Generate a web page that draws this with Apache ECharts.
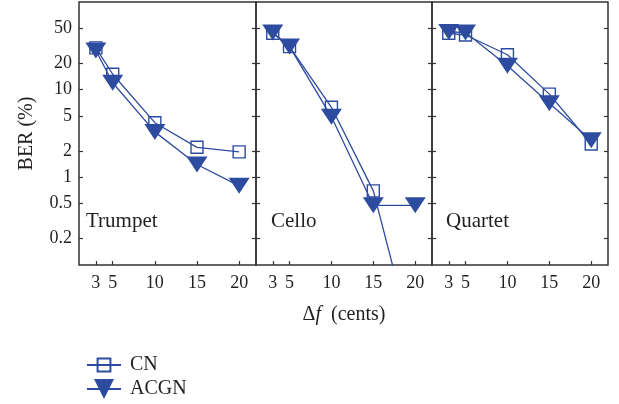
<!DOCTYPE html>
<html>
<head>
<meta charset="utf-8">
<script src="https://cdn.jsdelivr.net/npm/echarts@6/dist/echarts.min.js"></script>
<style>html,body{margin:0;padding:0;background:#fff;}#c{width:619px;height:404px;}</style>
</head>
<body>
<div id="c"></div>
<script>
// ---- data ----
const deltaF = [3, 5, 10, 15, 20];
const panels = ['Trumpet', 'Cello', 'Quartet'];
const trumpetCN   = [30, 15, 4.2, 2.2, 1.95];
const trumpetACGN = [28, 12, 3.3, 1.4, 0.8];
const celloCN     = [44, 31, 6.3, 0.7, 0.01];
const celloACGN   = [45, 31, 4.9, 0.48, 0.48];
const quartetCN   = [44, 42, 25, 8.9, 2.4];
const quartetACGN = [45.5, 45, 18.7, 7.0, 2.65];
const yTicks = [0.2, 0.5, 1, 2, 5, 10, 20, 50];
const xTicks = [3, 5, 10, 15, 20];

const cnSets = [trumpetCN, celloCN, quartetCN];
const acgnSets = [trumpetACGN, celloACGN, quartetACGN];

const BLUE = '#2d4c9f';
const TXT = '#231f20';
const FONT = '"Liberation Serif", "DejaVu Serif", serif';
const TRI = 'path://M0 0 L20 0 L10 16 Z';

const gridDefs = [
  {left: 79, width: 177},
  {left: 256, width: 176},
  {left: 432, width: 176}
];
const grids = gridDefs.map(g => ({
  left: g.left, width: g.width, top: 2, height: 263,
  show: true, borderColor: '#333', borderWidth: 1.5, backgroundColor: 'transparent'
}));

const xAxes = [], yAxes = [], series = [];
gridDefs.forEach((g, i) => {
  xAxes.push({
    type: 'value', gridIndex: i, min: 1, max: 22,
    axisLine: {show: false},
    splitLine: {show: false},
    axisTick: {show: true, inside: true, length: 4, customValues: xTicks, lineStyle: {color: '#333', width: 1.2}},
    axisLabel: {customValues: xTicks, margin: 9, fontFamily: FONT, fontSize: 18, color: TXT},
    name: i === 1 ? '{d|Δ}{f|f}{d|  (cents)}' : '',
    nameLocation: 'middle', nameGap: 40,
    nameTextStyle: {rich: {d: {fontFamily: FONT, fontSize: 20, color: TXT}, f: {fontFamily: FONT, fontSize: 20, fontStyle: 'italic', color: TXT}}}
  });
  yAxes.push({
    type: 'log', logBase: 10, gridIndex: i, min: 0.1, max: 100, position: 'left',
    axisLine: {show: false},
    splitLine: {show: false},
    minorTick: {show: false},
    axisTick: {show: true, inside: true, length: 4, customValues: yTicks, lineStyle: {color: '#333', width: 1.2}},
    axisLabel: {show: i === 0, customValues: yTicks, margin: 7, fontFamily: FONT, fontSize: 18, color: TXT,
      formatter: v => String(v)},
    name: i === 0 ? 'BER (%)' : '',
    nameLocation: 'middle', nameGap: 42,
    nameTextStyle: {fontFamily: FONT, fontSize: 20, color: TXT}
  });
  yAxes.push({
    type: 'log', logBase: 10, gridIndex: i, min: 0.1, max: 100, position: 'right',
    axisLine: {show: false},
    splitLine: {show: false},
    minorTick: {show: false},
    axisTick: {show: true, inside: true, length: 4, customValues: yTicks, lineStyle: {color: '#333', width: 1.2}},
    axisLabel: {show: false, customValues: yTicks}
  });
  const cn = cnSets[i], ac = acgnSets[i];
  series.push({
    name: 'CN', type: 'line', xAxisIndex: i, yAxisIndex: 2 * i,
    data: deltaF.map((x, k) => [x, cn[k]]),
    symbol: 'rect', symbolSize: 12, showAllSymbol: true,
    lineStyle: {color: BLUE, width: 1.3},
    itemStyle: {color: 'rgba(255,255,255,0)', borderColor: BLUE, borderWidth: 1.4},
    clip: true, animation: false, z: 2
  });
  series.push({
    name: 'ACGN', type: 'line', xAxisIndex: i, yAxisIndex: 2 * i,
    data: deltaF.map((x, k) => [x, ac[k]]),
    symbol: TRI, symbolSize: [21, 16], showAllSymbol: true,
    lineStyle: {color: BLUE, width: 1.3},
    itemStyle: {color: BLUE, borderColor: BLUE, borderWidth: 0},
    clip: true, animation: false, z: 3
  });
});

const panelLabelX = [86, 271, 446];
const graphics = panels.map((p, i) => ({
  type: 'text', left: panelLabelX[i], top: 211,
  style: {text: p, font: '21px ' + FONT, fill: TXT}
}));

const legendBase = {
  orient: 'vertical', left: 86, padding: 0,
  itemWidth: 34,
  textStyle: {fontFamily: FONT, fontSize: 20, color: TXT, padding: [0, 0, 0, 4]}
};

const chart = echarts.init(document.getElementById('c'), null, {renderer: 'canvas'});
chart.setOption({
  animation: false,
  backgroundColor: '#fff',
  grid: grids,
  xAxis: xAxes,
  yAxis: yAxes,
  series: series,
  graphic: graphics,
  legend: [
    Object.assign({}, legendBase, {data: ['CN'], top: 355, itemHeight: 16}),
    Object.assign({}, legendBase, {data: ['ACGN'], top: 379, itemHeight: 25})
  ]
});
</script>
</body>
</html>
